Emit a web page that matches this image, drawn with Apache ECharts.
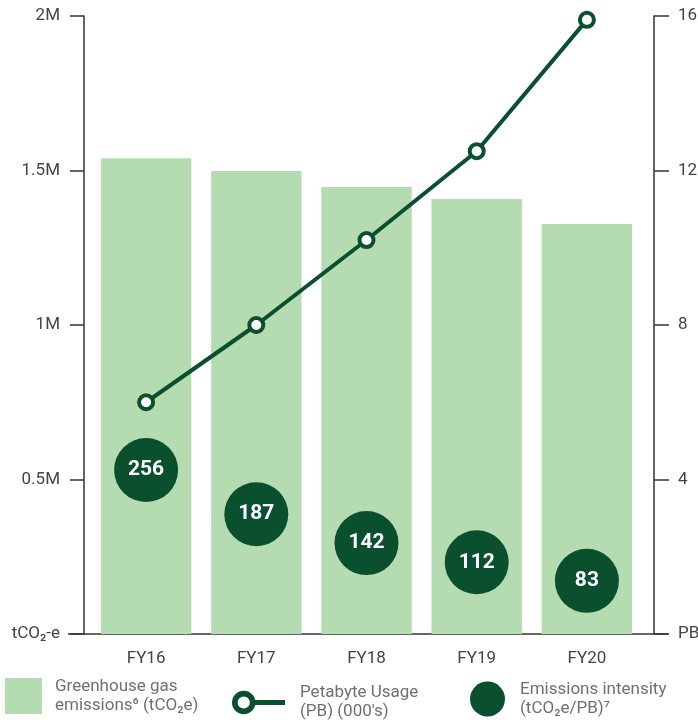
<!DOCTYPE html>
<html lang="en">
<head>
    <meta charset="utf-8">
    <script src="https://cdn.jsdelivr.net/npm/echarts@6/dist/echarts.min.js"></script>
    <title>Emissions</title>
    <style>
        html, body { margin: 0; padding: 0; background: #fff; }
        #container { width: 698px; height: 720px; }
    </style>
</head>
<body>
<div id="container"></div>
<script type="text/javascript">
    // data
    const years = ['FY16', 'FY17', 'FY18', 'FY19', 'FY20'];
    const ghgEmissions = [1540000, 1498000, 1447000, 1408000, 1327000];   // tCO2e
    const petabyteUsage = [6.0, 8.0, 10.2, 12.5, 15.9];                 // PB (000's)
    const intensity = [256, 187, 142, 112, 83];                          // tCO2e/PB

    const light = '#b5dcb0';
    const dark = '#0a4f2e';
    const axisColor = '#333';
    const labelColor = '#444';
    const font = 'Roboto';

    const ghgName = 'Greenhouse gas\nemissions⁶ (tCO₂e)';
    const pbName = 'Petabyte Usage\n(PB) (000\'s)';
    const intName = 'Emissions intensity\n(tCO₂e/PB)⁷';

    // ring + line legend marker
    const ringIcon = 'path://M1,12.5 A11.5,11.5 0 1,1 24,12.5 A11.5,11.5 0 1,1 1,12.5 Z ' +
        'M6.5,12.5 A6,6 0 1,0 18.5,12.5 A6,6 0 1,0 6.5,12.5 Z M23,10 L53,10 L53,15 L23,15 Z';

    const chart = echarts.init(document.getElementById('container'), null, {renderer: 'canvas'});

    function legendText(padding) {
        return {color: '#707070', fontSize: 17, lineHeight: 19, fontFamily: font, padding: padding};
    }

    chart.setOption({
        animation: false,
        grid: {left: 91, right: 56, top: 16, bottom: 86, outerBoundsMode: 'none', containLabel: false},
        xAxis: {
            type: 'category',
            data: years,
            axisLine: {show: false},
            axisTick: {show: false},
            axisLabel: {color: labelColor, fontSize: 17, fontFamily: font, margin: 16}
        },
        yAxis: [
            {
                type: 'value', position: 'left', offset: 7,
                min: 0, max: 2000000, interval: 500000,
                axisLine: {show: true, lineStyle: {color: axisColor, width: 1.5}},
                axisTick: {show: true, length: 14, lineStyle: {color: axisColor, width: 1.5}},
                splitLine: {show: false},
                axisLabel: {
                    color: labelColor, fontSize: 17, fontFamily: font, margin: 24,
                    formatter: v => v === 0 ? 'tCO₂-e' : (v / 1000000) + 'M'
                }
            },
            {
                type: 'value', position: 'right', offset: 12,
                min: 0, max: 16, interval: 4,
                axisLine: {show: true, lineStyle: {color: axisColor, width: 1.5}},
                axisTick: {show: true, length: 15, lineStyle: {color: axisColor, width: 1.5}},
                splitLine: {show: false},
                axisLabel: {
                    color: labelColor, fontSize: 17, fontFamily: font, margin: 24,
                    formatter: v => v === 0 ? 'PB' : v
                }
            },
            {
                // hidden scale for the intensity bubbles
                type: 'value', show: false, min: 0, max: 965
            }
        ],
        legend: [
            {
                left: 5, top: 674, padding: 0, itemWidth: 37, itemHeight: 36, itemGap: 0,
                data: [{name: ghgName, icon: 'rect'}],
                textStyle: legendText([6, 0, 0, 8])
            },
            {
                left: 232, top: 678, padding: 0, itemWidth: 53, itemHeight: 25, itemGap: 0,
                data: [{name: pbName, icon: ringIcon, itemStyle: {color: dark, borderWidth: 0}}],
                textStyle: legendText([0, 0, 11, 10])
            },
            {
                left: 470, top: 680, padding: 0, itemWidth: 35, itemHeight: 35, itemGap: 0,
                data: [{name: intName, icon: 'circle'}],
                textStyle: legendText([0, 0, 0, 10])
            }
        ],
        series: [
            {
                name: ghgName,
                type: 'bar',
                data: ghgEmissions,
                barCategoryGap: '18%',
                itemStyle: {color: light}
            },
            {
                name: pbName,
                type: 'line',
                yAxisIndex: 1,
                data: petabyteUsage,
                symbol: 'circle',
                symbolSize: 14,
                z: 3,
                lineStyle: {color: dark, width: 4},
                itemStyle: {color: '#fff', borderColor: dark, borderWidth: 4}
            },
            {
                name: intName,
                type: 'scatter',
                yAxisIndex: 2,
                data: intensity,
                symbolSize: 64,
                z: 4,
                itemStyle: {color: dark, opacity: 1},
                label: {
                    show: true, position: 'inside', color: '#fff',
                    fontSize: 21, fontWeight: 'bold', fontFamily: font
                }
            }
        ],
        graphic: [
            {
                type: 'line', silent: true,
                shape: {x1: 68, y1: 634, x2: 668, y2: 634},
                style: {stroke: axisColor, lineWidth: 1.5}
            }
        ]
    });

    window.onresize = function () {
        chart.resize();
    };
</script>
</body>
</html>
